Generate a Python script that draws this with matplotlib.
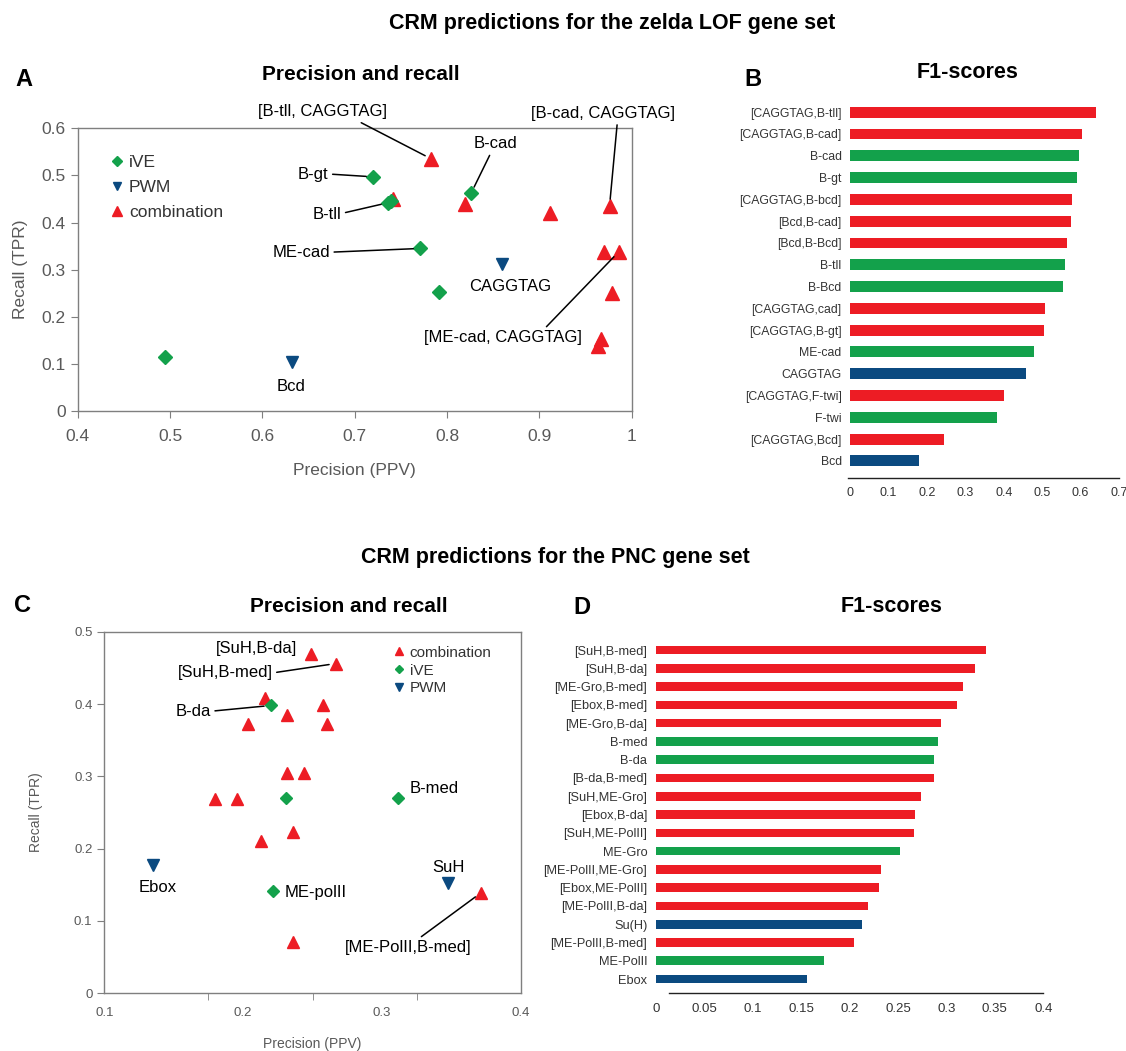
import matplotlib
matplotlib.use("Agg")
import matplotlib.pyplot as plt
import numpy as np

# --- data, panel A: zelda LOF precision / recall ---
a_ive_ppv = [0.495, 0.720, 0.736, 0.739, 0.771, 0.826, 0.791]
a_ive_tpr = [0.115, 0.497, 0.442, 0.446, 0.345, 0.462, 0.252]
a_pwm_ppv = [0.632, 0.859]
a_pwm_tpr = [0.105, 0.313]
a_comb_ppv = [0.741, 0.783, 0.819, 0.911, 0.976, 0.970, 0.986, 0.979, 0.967, 0.964]
a_comb_tpr = [0.451, 0.535, 0.440, 0.420, 0.435, 0.338, 0.338, 0.250, 0.153, 0.137]

# --- data, panel B: zelda LOF F1 ---
b_labels = ["[CAGGTAG,B-tll]", "[CAGGTAG,B-cad]", "B-cad", "B-gt", "[CAGGTAG,B-bcd]",
            "[Bcd,B-cad]", "[Bcd,B-Bcd]", "B-tll", "B-Bcd", "[CAGGTAG,cad]",
            "[CAGGTAG,B-gt]", "ME-cad", "CAGGTAG", "[CAGGTAG,F-twi]", "F-twi",
            "[CAGGTAG,Bcd]", "Bcd"]
b_f1 = [0.639, 0.605, 0.595, 0.591, 0.578, 0.575, 0.564, 0.559, 0.554, 0.507,
        0.506, 0.480, 0.458, 0.401, 0.383, 0.245, 0.180]
b_kind = ["comb", "comb", "ive", "ive", "comb", "comb", "comb", "ive", "ive", "comb",
          "comb", "ive", "pwm", "comb", "ive", "comb", "pwm"]

# --- data, panel C: PNC precision / recall ---
c_comb_ppv = [0.1798, 0.1958, 0.2037, 0.2158, 0.2129, 0.2318, 0.2318, 0.2362, 0.2357,
              0.2487, 0.2669, 0.2578, 0.2602, 0.2439, 0.3714]
c_comb_tpr = [0.269, 0.269, 0.373, 0.409, 0.210, 0.385, 0.304, 0.223, 0.071,
              0.469, 0.456, 0.398, 0.373, 0.304, 0.139]
c_ive_ppv = [0.2201, 0.2218, 0.2309, 0.3114]
c_ive_tpr = [0.398, 0.141, 0.270, 0.270]
c_pwm_ppv = [0.1353, 0.3478]
c_pwm_tpr = [0.177, 0.153]

# --- data, panel D: PNC F1 ---
d_labels = ["[SuH,B-med]", "[SuH,B-da]", "[ME-Gro,B-med]", "[Ebox,B-med]", "[ME-Gro,B-da]",
            "B-med", "B-da", "[B-da,B-med]", "[SuH,ME-Gro]", "[Ebox,B-da]",
            "[SuH,ME-PolII]", "ME-Gro", "[ME-PolII,ME-Gro]", "[Ebox,ME-PolII]",
            "[ME-PolII,B-da]", "Su(H)", "[ME-PolII,B-med]", "ME-PolII", "Ebox"]
d_f1 = [0.341, 0.330, 0.317, 0.311, 0.294, 0.291, 0.287, 0.287, 0.274, 0.268,
        0.267, 0.252, 0.232, 0.230, 0.219, 0.213, 0.205, 0.174, 0.156]
d_kind = ["comb", "comb", "comb", "comb", "comb", "ive", "ive", "comb", "comb", "comb",
          "comb", "ive", "comb", "comb", "comb", "pwm", "comb", "ive", "pwm"]

RED = "#ed1c24"
GREEN = "#13a14b"
BLUE = "#0b4a80"
colors = {"comb": RED, "ive": GREEN, "pwm": BLUE}

plt.rcParams["font.family"] = ["Liberation Sans", "DejaVu Sans"]

W, H = 1126, 1051
fig = plt.figure(figsize=(W / 100, H / 100), dpi=100)


def px_box(l, t, r, b):
    return [l / W, 1 - b / H, (r - l) / W, (b - t) / H]


def style_scatter(ax, fs):
    for s in ax.spines.values():
        s.set_color("#7f7f7f")
        s.set_linewidth(1.0)
    ax.tick_params(colors="#7f7f7f", labelcolor="#595959", labelsize=fs,
                   direction="out", length=5)


# ================= Panel A =================
ax = fig.add_axes(px_box(77.7, 128.3, 631.7, 411))
ax.plot(a_ive_ppv, a_ive_tpr, "D", color=GREEN, ms=7, mec=GREEN, label="iVE", zorder=3)
ax.plot(a_pwm_ppv, a_pwm_tpr, "v", color=BLUE, ms=9, label="PWM", zorder=3)
ax.plot(a_comb_ppv, a_comb_tpr, "^", color=RED, ms=9.5, label="combination", zorder=2)
ax.set_xlim(0.4, 1.0)
ax.set_ylim(0, 0.6)
ax.set_xticks(np.arange(0.4, 1.01, 0.1))
ax.set_xticklabels(["0.4", "0.5", "0.6", "0.7", "0.8", "0.9", "1"])
ax.set_yticks(np.arange(0, 0.61, 0.1))
ax.set_yticklabels(["0", "0.1", "0.2", "0.3", "0.4", "0.5", "0.6"])
style_scatter(ax, 12.5)
ax.tick_params(axis="x", pad=8)
ax.set_xlabel("Precision (PPV)", fontsize=12.5, color="#595959", labelpad=14)
ax.set_ylabel("Recall (TPR)", fontsize=12.5, color="#595959", labelpad=10)
leg = ax.legend(loc="upper left", bbox_to_anchor=(0.027, 0.96), frameon=False,
                fontsize=12.5, handletextpad=0.2, markerscale=0.7,
                labelspacing=0.55, handlelength=1.0)
for t in leg.get_texts():
    t.set_color("#333333")

lk = dict(fontsize=12, color="black", ha="center", va="center", annotation_clip=False)
ak = dict(arrowstyle="-", color="black", lw=1.1, shrinkA=1, shrinkB=5)
ax.annotate("[B-tll, CAGGTAG]", xy=(a_comb_ppv[1], a_comb_tpr[1]), xytext=(0.665, 0.635),
            arrowprops=dict(ak, relpos=(0.75, 0.0)), **lk)
ax.annotate("B-gt", xy=(a_ive_ppv[1], a_ive_tpr[1]), xytext=(0.655, 0.503),
            arrowprops=dict(ak, relpos=(1.0, 0.5)), **lk)
ax.annotate("B-tll", xy=(a_ive_ppv[2], a_ive_tpr[2]), xytext=(0.670, 0.416),
            arrowprops=dict(ak, relpos=(1.0, 0.6)), **lk)
ax.annotate("ME-cad", xy=(a_ive_ppv[4], a_ive_tpr[4]), xytext=(0.642, 0.337),
            arrowprops=dict(ak, relpos=(1.0, 0.5)), **lk)
ax.annotate("Bcd", xy=(a_pwm_ppv[0], a_pwm_tpr[0]), xytext=(0.631, 0.053), **lk)
ax.annotate("B-cad", xy=(a_ive_ppv[5], a_ive_tpr[5]), xytext=(0.853, 0.567),
            arrowprops=dict(ak, relpos=(0.4, 0.0)), **lk)
ax.annotate("[B-cad, CAGGTAG]", xy=(a_comb_ppv[4], a_comb_tpr[4]), xytext=(0.969, 0.632),
            arrowprops=dict(ak, relpos=(0.6, 0.0)), **lk)
ax.annotate("CAGGTAG", xy=(a_pwm_ppv[1], a_pwm_tpr[1]), xytext=(0.868, 0.265), **lk)
ax.annotate("[ME-cad, CAGGTAG]", xy=(a_comb_ppv[6], a_comb_tpr[6]), xytext=(0.861, 0.155),
            arrowprops=dict(ak, relpos=(0.75, 1.0)), **lk)


def style_bars(ax, xmax, step, left_bound, fs):
    for k in ("left", "right", "top"):
        ax.spines[k].set_visible(False)
    ax.spines["bottom"].set_color("#222222")
    ax.spines["bottom"].set_linewidth(1.0)
    ax.spines["bottom"].set_bounds(left_bound, xmax)
    ax.set_xlim(0, xmax)
    ticks = np.arange(0, xmax + step / 2, step)
    ax.set_xticks(ticks)
    ax.set_xticklabels([f"{v:.2f}".rstrip("0").rstrip(".") for v in ticks],
                       fontsize=fs, color="#333333")
    ax.tick_params(axis="x", length=0, pad=7)
    ax.tick_params(axis="y", length=0, pad=6)


# ================= Panel B =================
ax = fig.add_axes(px_box(850, 100, 1119, 477.7))
yb = np.arange(len(b_labels))
ax.barh(yb, b_f1, height=0.5, color=[colors[k] for k in b_kind])
ax.set_yticks(yb)
ax.set_yticklabels(b_labels, fontsize=8.8, color="#333333")
ax.set_ylim(len(b_labels) - 1 + 0.77, -0.56)
style_bars(ax, 0.7, 0.1, -0.005, 9)

# ================= Panel C =================
ax = fig.add_axes(px_box(104.3, 631.7, 520.7, 993.3))
ax.plot(c_comb_ppv, c_comb_tpr, "^", color=RED, ms=8.5, label="combination", zorder=2)
ax.plot(c_ive_ppv, c_ive_tpr, "D", color=GREEN, ms=6.5, label="iVE", zorder=3)
ax.plot(c_pwm_ppv, c_pwm_tpr, "v", color=BLUE, ms=8.5, label="PWM", zorder=3)
ax.set_xlim(0.1, 0.4)
ax.set_ylim(0, 0.5)
ax.set_xticks([0.1, 0.2, 0.3, 0.4])
ax.set_xticklabels(["0.1", "0.2", "0.3", "0.4"])
ax.set_xticks(np.linspace(0.1, 0.4, 5), minor=True)
ax.set_yticks(np.arange(0, 0.51, 0.1))
ax.set_yticklabels(["0", "0.1", "0.2", "0.3", "0.4", "0.5"])
style_scatter(ax, 9.5)
ax.tick_params(axis="x", which="major", length=0, pad=10)
ax.tick_params(axis="x", which="minor", length=5, color="#7f7f7f")
ax.set_xlabel("Precision (PPV)", fontsize=10, color="#595959", labelpad=13)
ax.set_ylabel("Recall (TPR)", fontsize=10, color="#595959", labelpad=22)
leg = ax.legend(loc="upper right", bbox_to_anchor=(0.963, 0.999), frameon=False,
                fontsize=11, handletextpad=0.2, markerscale=0.6,
                labelspacing=0.25, handlelength=1.0)
for t in leg.get_texts():
    t.set_color("#333333")

lk = dict(fontsize=12, color="black", ha="center", va="center", annotation_clip=False)
ax.annotate("[SuH,B-da]", xy=(c_comb_ppv[9], c_comb_tpr[9]), xytext=(0.2098, 0.477), **lk)
ax.annotate("[SuH,B-med]", xy=(c_comb_ppv[10], c_comb_tpr[10]), xytext=(0.187, 0.443),
            arrowprops=dict(ak, relpos=(1.0, 0.5)), **lk)
ax.annotate("B-da", xy=(c_ive_ppv[0], c_ive_tpr[0]), xytext=(0.164, 0.390),
            arrowprops=dict(ak, relpos=(1.0, 0.5)), **lk)
ax.annotate("Ebox", xy=(c_pwm_ppv[0], c_pwm_tpr[0]), xytext=(0.1385, 0.146), **lk)
ax.annotate("ME-polII", xy=(c_ive_ppv[1], c_ive_tpr[1]), xytext=(0.2297, 0.1397),
            **dict(lk, ha="left"))
ax.annotate("B-med", xy=(c_ive_ppv[3], c_ive_tpr[3]), xytext=(0.338, 0.283), **lk)
ax.annotate("SuH", xy=(c_pwm_ppv[1], c_pwm_tpr[1]), xytext=(0.348, 0.174), **lk)
ax.annotate("[ME-PolII,B-med]", xy=(c_comb_ppv[14], c_comb_tpr[14]), xytext=(0.319, 0.063),
            arrowprops=dict(ak, relpos=(0.565, 1.0)), **lk)

# ================= Panel D =================
ax = fig.add_axes(px_box(655.7, 638, 1043.3, 993.3))
yd = np.arange(len(d_labels))
ax.barh(yd, d_f1, height=0.47, color=[colors[k] for k in d_kind])
ax.set_yticks(yd)
ax.set_yticklabels(d_labels, fontsize=9.2, color="#333333")
ax.set_ylim(len(d_labels) - 1 + 0.78, -0.66)
style_bars(ax, 0.4, 0.05, 0.014, 9.5)

# ================= titles =================
tk = dict(ha="center", va="center", fontweight="bold", color="black")
fig.text(612 / W, 1 - 24 / H, "CRM predictions for the zelda LOF gene set", fontsize=15.5, **tk)
fig.text(555 / W, 1 - 558 / H, "CRM predictions for the PNC gene set", fontsize=15.5, **tk)
fig.text(361 / W, 1 - 75 / H, "Precision and recall", fontsize=15, **tk)
fig.text(968 / W, 1 - 72 / H, "F1-scores", fontsize=15.5, **tk)
fig.text(349 / W, 1 - 606 / H, "Precision and recall", fontsize=15, **tk)
fig.text(892 / W, 1 - 607 / H, "F1-scores", fontsize=15.5, **tk)
lt = dict(ha="center", va="center", fontweight="bold", fontsize=17, color="black")
fig.text(24 / W, 1 - 80 / H, "A", **lt)
fig.text(753 / W, 1 - 80 / H, "B", **lt)
fig.text(22 / W, 1 - 605 / H, "C", **lt)
fig.text(582 / W, 1 - 607 / H, "D", **lt)

fig.savefig("out.png", dpi=100)
